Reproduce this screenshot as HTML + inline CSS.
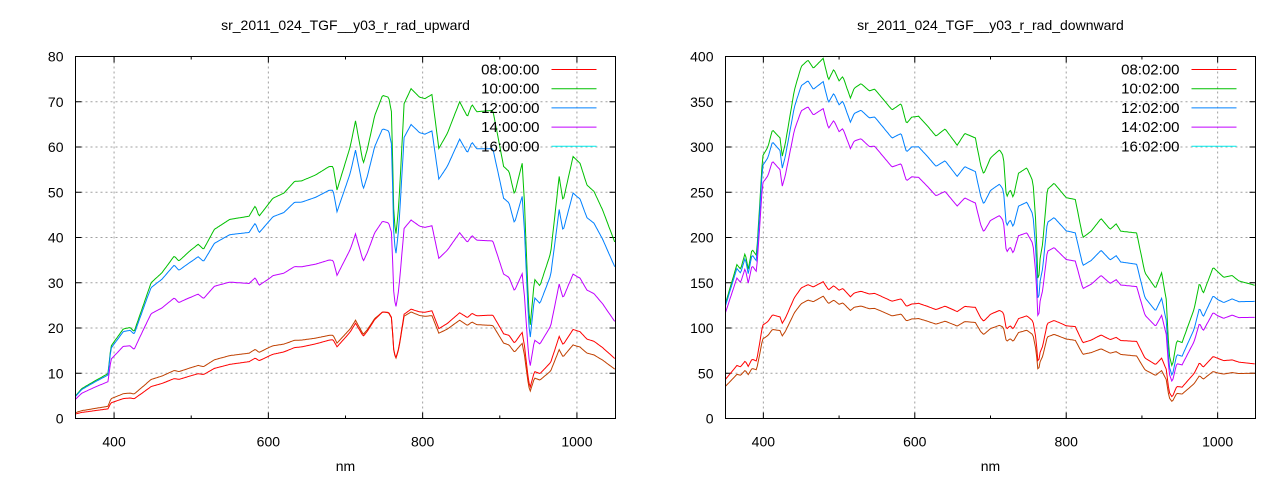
<!DOCTYPE html>
<html><head><meta charset="utf-8"><style>
html,body{margin:0;padding:0;background:#fff;}
svg{display:block;font-family:"Liberation Sans",sans-serif;}
</style></head><body>
<svg id="s" width="1280" height="480" xmlns="http://www.w3.org/2000/svg"></svg>
<script>
const S=document.getElementById('s');
let h='';
const G=[[350,5],[358,6.6],[376,8.4],[392,9.9],[396,16],[412,19.8],[421,20.1],[426,19.2],[448,30],[462,32.2],[478,35.9],[484,34.8],[498,37],[509,38.5],[516,37.4],[530,41.8],[550,44],[575,44.7],[583,47],[588,44.7],[606,48.7],[620,49.8],[634,52.4],[643,52.5],[661,53.8],[679,55.7],[684,55.7],[689,50.5],[706,60],[713,65.8],[723,56.3],[728,59.3],[738,67],[748,71.4],[756,71],[760,67.4],[762,47.6],[765,40],[769,46.9],[776,69.6],[785,72.9],[796,71],[803,70.7],[812,71.6],[821,59.7],[832,63],[848,70],[858,66.7],[864,69.4],[870,67.8],[891,68.1],[905,55.7],[912,54.6],[919,49.5],[929,56.4],[932,47.6],[936,30],[939,19.8],[945,30.8],[952,29.3],[966,36.6],[977,53.5],[982,48],[995,57.9],[1004,56.4],[1013,51.6],[1022,50.2],[1033,46.2],[1051,38.1]];
const R=[[351,130],[365,170],[370,165],[376,183],[380,165],[385,187],[391,180],[394,220],[399,290],[406,300],[412,319],[422,310],[425,290],[429,304],[441,363],[450,389],[459,396],[466,387],[479,398],[486,374],[493,386],[500,373],[505,378],[515,354],[520,365],[529,370],[540,362],[547,364],[570,341],[582,348],[589,326],[596,333],[605,334],[617,323],[628,312],[640,320],[656,302],[666,315],[680,310],[687,280],[691,270],[700,288],[712,297],[717,290],[721,244],[726,253],[730,244],[737,271],[748,277],[756,262],[760,216],[763,143],[765,174],[769,194],[775,253],[784,260],[800,244],[812,242],[822,200],[833,207],[846,221],[858,209],[866,215],[872,207],[893,205],[904,161],[918,144],[926,161],[932,132],[936,70],[940,57],[946,86],[953,84],[969,121],[976,150],[981,138],[994,167],[1008,156],[1019,158],[1028,152],[1050,147]];
function interp(f,x){for(let i=0;i<f.length-1;i++){if(x<=f[i+1][0]){const t=(x-f[i][0])/(f[i+1][0]-f[i][0]);return f[i][1]+t*(f[i+1][1]-f[i][1]);}}return f[f.length-1][1];}
function plot(P){
 const {x0,x1,y0,y1,ymax,ystep,data,series,labels,title}=P;
 const X=n=>x0+(n-350)/700*(x1-x0), Y=v=>y1-v/ymax*(y1-y0);
 for(let v=ystep;v<ymax;v+=ystep){h+=`<line x1="${x0}" x2="${x1}" y1="${Y(v)}" y2="${Y(v)}" stroke="#a0a0a0" stroke-dasharray="2,3" stroke-width="1"/>`;}
 for(let n=400;n<=1000;n+=200){h+=`<line x1="${X(n)}" x2="${X(n)}" y1="${y0}" y2="${y1}" stroke="#a0a0a0" stroke-dasharray="2,3" stroke-width="1"/>`;}
 for(let v=0;v<=ymax;v+=ystep){const y=Y(v);h+=`<line x1="${x0}" x2="${x0+6}" y1="${y}" y2="${y}" stroke="#000"/><line x1="${x1-6}" x2="${x1}" y1="${y}" y2="${y}" stroke="#000"/><text x="${x0-12}" y="${y+5}" font-size="14" text-anchor="end">${v}</text>`;}
 for(let n=400;n<=1000;n+=200){const x=X(n);h+=`<line x1="${x}" x2="${x}" y1="${y1}" y2="${y1-6}" stroke="#000"/><line x1="${x}" x2="${x}" y1="${y0}" y2="${y0+6}" stroke="#000"/><text x="${x}" y="${y1+28}" font-size="14" text-anchor="middle">${n}</text>`;}
 for(let n=500;n<=900;n+=200){const x=X(n);h+=`<line x1="${x}" x2="${x}" y1="${y1}" y2="${y1-3}" stroke="#000"/><line x1="${x}" x2="${x}" y1="${y0}" y2="${y0+3}" stroke="#000"/>`;}
 series.forEach(s=>{let pts=[];for(let n=350;n<=1050;n+=1.5){let v=interp(data,n)*interp(s.f,n);v=Math.max(0,Math.min(ymax,v));pts.push(X(n).toFixed(1)+','+Y(v).toFixed(1));}
  h+=`<polyline points="${pts.join(' ')}" fill="none" stroke="${s.c}" stroke-width="1"/>`;});
 h+=`<rect x="${x0}" y="${y0}" width="${x1-x0}" height="${y1-y0}" fill="none" stroke="#000" stroke-width="1"/>`;
 const lc=['#ff0000','#00c000','#0080ff','#c000ff','#00eeee'];
 labels.forEach((l,i)=>{const y=y0+13+i*19.2;h+=`<text x="${x1-76}" y="${y+5}" font-size="15" text-anchor="end">${l}</text><line x1="${x1-64}" x2="${x1-19}" y1="${y}" y2="${y}" stroke="${lc[i]}"/>`;});
 h+=`<text x="${(x0+x1)/2}" y="30" font-size="14" text-anchor="middle">${title}</text>`;
 h+=`<text x="${(x0+x1)/2}" y="471" font-size="14" text-anchor="middle">nm</text>`;
}
plot({x0:75.5,x1:615.5,y0:56.5,y1:418.5,ymax:80,ystep:10,data:G,title:"sr_2011_024_TGF__y03_r_rad_upward",
 labels:["08:00:00","10:00:00","12:00:00","14:00:00","16:00:00"],
 series:[
  {c:'#00c000',f:[[350,1],[1050,1]]},
  {c:'#0080ff',f:[[350,0.97],[440,0.97],[500,0.93],[760,0.895],[1000,0.86],[1050,0.86]]},
  {c:'#c000ff',f:[[350,0.85],[420,0.8],[500,0.72],[600,0.65],[750,0.61],[1000,0.55],[1050,0.55]]},
  {c:'#c04000',f:[[350,0.26],[600,0.33],[750,0.33],[1000,0.28],[1050,0.28]]},
  {c:'#ff0000',f:[[350,0.2],[600,0.29],[750,0.33],[1000,0.34],[1050,0.34]]}
 ]});
plot({x0:725.5,x1:1255.5,y0:56.5,y1:418.5,ymax:400,ystep:50,data:R,title:"sr_2011_024_TGF__y03_r_rad_downward",
 labels:["08:02:00","10:02:00","12:02:00","14:02:00","16:02:00"],
 series:[
  {c:'#00c000',f:[[350,1],[1050,1]]},
  {c:'#0080ff',f:[[350,0.98],[480,0.935],[600,0.9],[800,0.85],[1000,0.81],[1050,0.88]]},
  {c:'#c000ff',f:[[350,0.92],[480,0.86],[600,0.8],[800,0.72],[1000,0.7],[1050,0.76]]},
  {c:'#c04000',f:[[350,0.28],[480,0.34],[600,0.33],[800,0.36],[1000,0.31],[1050,0.34]]},
  {c:'#ff0000',f:[[350,0.34],[480,0.38],[600,0.38],[800,0.42],[1000,0.41],[1050,0.41]]}
 ]});
S.innerHTML=h;
</script>
</body></html>
